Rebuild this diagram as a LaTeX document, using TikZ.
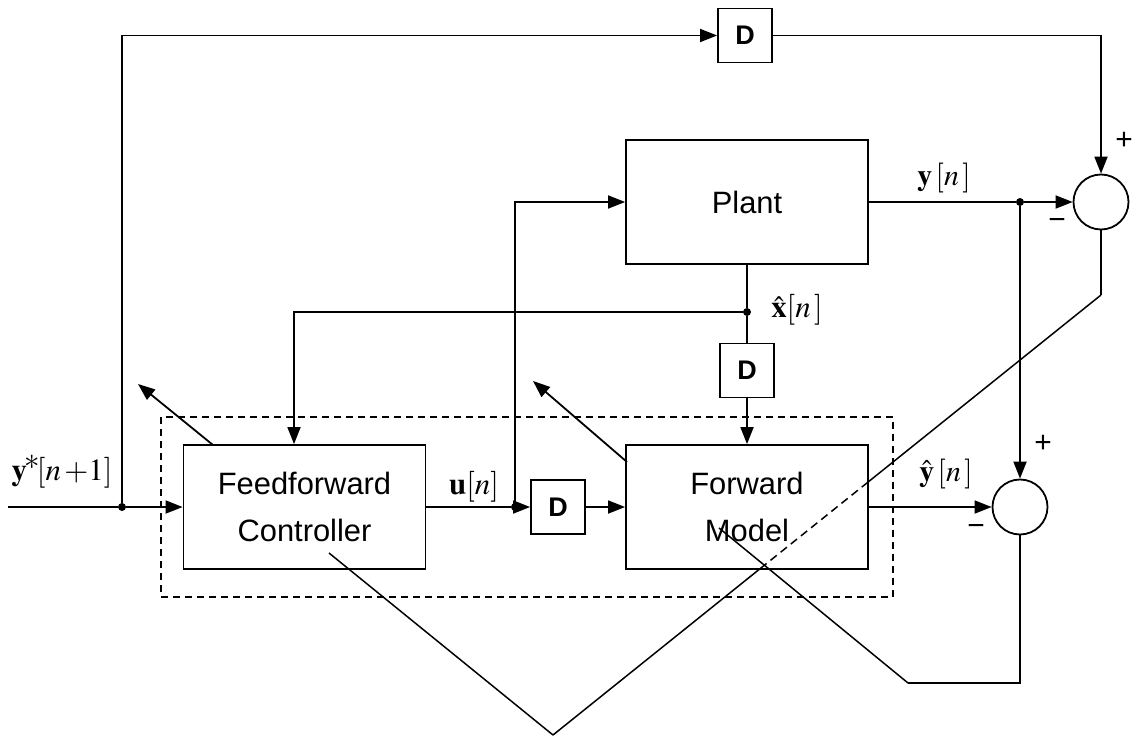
\documentclass[tikz,border=0pt]{standalone}
\usepackage{mathptmx}
\usepackage{fontspec}
\setmainfont{Liberation Serif}
\newfontfamily\arial{Liberation Sans}
\usetikzlibrary{arrows.meta}
\begin{document}
\begin{tikzpicture}[x=1bp,y=-1bp,
  conn/.style={line width=1.8bp},
  arr/.style={conn,-{Triangle[length=17bp,width=13bp]}},
  blk/.style={draw,line width=1.8bp,inner sep=0,minimum width=242bp,minimum height=124bp,align=center,font=\arial\fontsize{31}{48}\selectfont},
  dbox/.style={draw,line width=1.8bp,inner sep=0,minimum size=54bp,font=\arial\bfseries\fontsize{27}{30}\selectfont},
  sumc/.style={draw,circle,line width=1.8bp,inner sep=0,minimum size=55bp},
  dot/.style={circle,fill,inner sep=0,minimum size=8bp},
  lbl/.style={inner sep=0},
  sgn/.style={inner sep=0,font=\arial\fontsize{30}{32}\selectfont},
  diag/.style={line width=1.5bp},
  frame/.style={line width=1.5bp,dash pattern=on 7bp off 5bp}]
\useasboundingbox (0,0) rectangle (1132,736);
% blocks
\node[blk] (ff) at (304.5,507) {Feedforward\\Controller};
\node[blk] (fm) at (747,507) {Forward\\Model};
\node[blk] (pl) at (747,202) {Plant};
\node[dbox] (d1) at (745,35.5) {D};
\node[dbox] (d2) at (558,507) {D};
\node[dbox] (d3) at (747,370.5) {D};
\node[sumc] (s1) at (1101,202) {};
\node[sumc] (s2) at (1020,507) {};
% junctions
\node[dot] (j1) at (122,507) {};
\node[dot] (j2) at (515,507) {};
\node[dot] (j3) at (747,312) {};
\node[dot] (j4) at (1020,202) {};
% dashed frame
\draw[frame] (161,417) rectangle (893,597);
% free ends
\coordinate (in) at (8,507);
\coordinate (cx) at (294,312);
\coordinate (ls1) at (213,445);
\coordinate (la1) at (138,384);
\coordinate (ls2) at (627,462);
\coordinate (la2) at (533,381);
\coordinate (v) at (553,735);
\coordinate (cs) at (329,553);
\coordinate (s1d) at (1101,295);
\coordinate (p1) at (868,482.1);
\coordinate (p2) at (759.7,569);
\coordinate (fs) at (719,528);
\coordinate (b1) at (908,683);
\coordinate (b2) at (1020,683);
% connectors
\draw[conn] (in) -- (j1);
\draw[arr] (j1) -- (ff.west);
\draw[arr] (j1) |- (d1.west);
\draw[arr] (d1.east) -| (s1.north);
\draw[conn] (ff.east) -- (j2);
\draw[arr] (j2) -- (d2.west);
\draw[arr] (d2.east) -- (fm.west);
\draw[arr] (j2) |- (pl.west);
\draw[conn] (pl.east) -- (j4);
\draw[arr] (j4) -- (s1.west);
\draw[arr] (j4) -- (s2.north);
\draw[arr] (fm.east) -- (s2.west);
\draw[conn] (pl.south) -- (j3);
\draw[conn] (j3) -- (d3.north);
\draw[arr] (d3.south) -- (fm.north);
\draw[arr] (j3) -| (cx |- ff.north);
\draw[arr] (ls1) -- (la1);
\draw[arr] (ls2) -- (la2);
% error lines
\draw[diag] (cs) -- (v);
\draw[conn] (s1.south) -- (s1d);
\draw[diag] (s1d) -- (p1);
\draw[diag,dash pattern=on 8bp off 5bp] (p1) -- (p2);
\draw[diag] (p2) -- (v);
\draw[diag] (fs) -- (b1);
\draw[conn] (b1) -- (b2) -- (s2.south);
% labels
\node[lbl,font=\fontsize{31}{34}\selectfont] (ly) at (62,472) {$\mathbf{y}^{\!\textstyle *}\![n\,{+}1]$};
\node[lbl,font=\fontsize{31}{34}\selectfont] (lu) at (474,487) {$\mathbf{u}[n]$};
\node[lbl,font=\fontsize{30}{34}\selectfont] (lyn) at (944,178) {$\mathbf{y}\,[n\,]$};
\node[lbl,font=\fontsize{30}{34}\selectfont] (lyh) at (946,474) {$\hat{\mathbf{y}}\,[n\,]$};
\node[lbl,font=\fontsize{31}{34}\selectfont] (lxh) at (797,310) {$\hat{\mathbf{x}}[n\,]$};
\node[sgn] (pp1) at (1124,141) {+};
\node[sgn] (mm1) at (1057,224) {−};
\node[sgn] (pp2) at (1043,444) {+};
\node[sgn] (mm2) at (976,530) {−};
\end{tikzpicture}
\end{document}
